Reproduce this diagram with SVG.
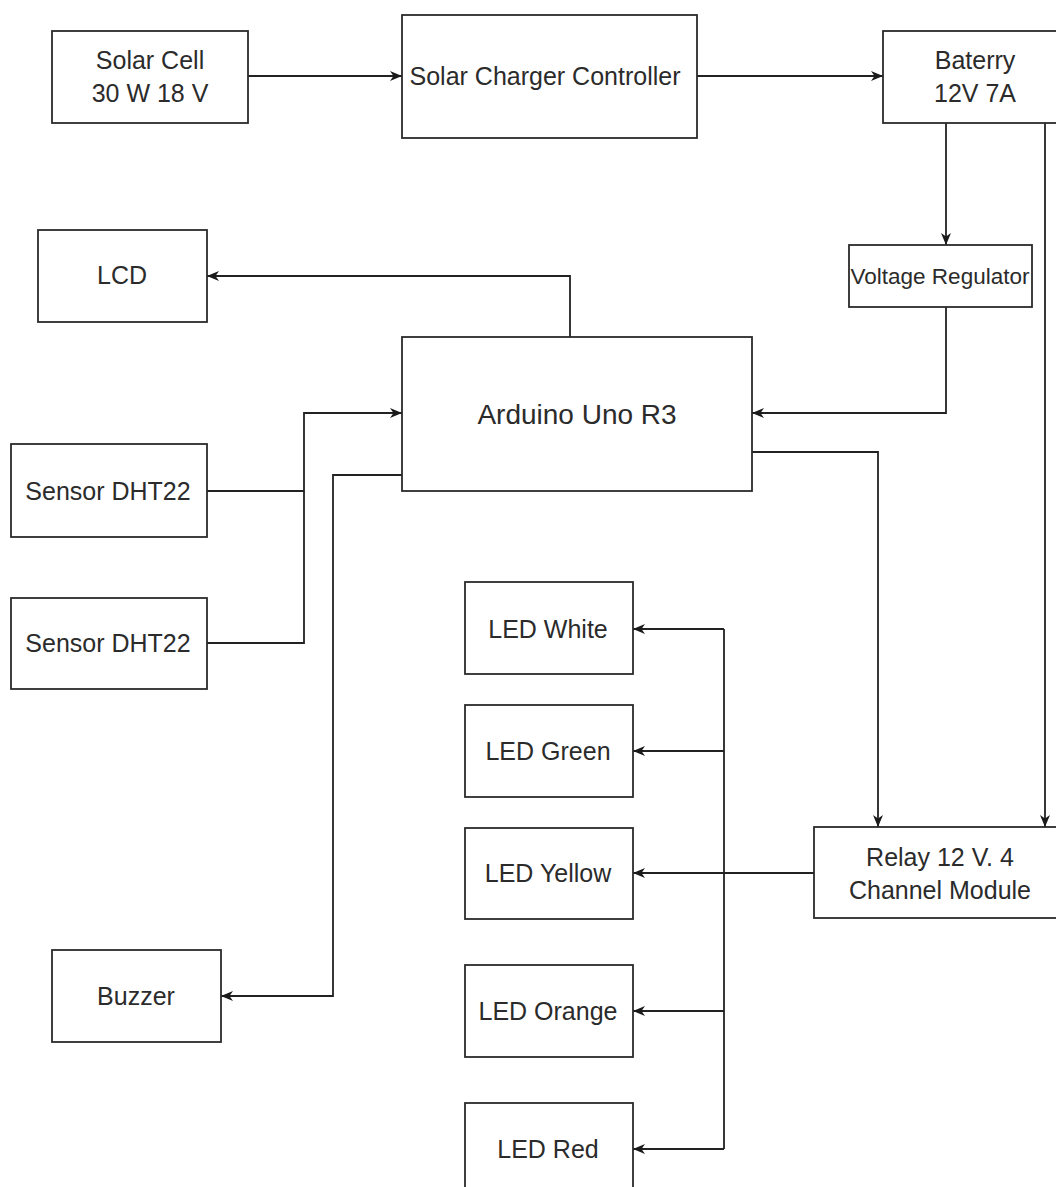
<svg xmlns="http://www.w3.org/2000/svg" width="1056" height="1187" viewBox="0 0 1056 1187">
<style>
.box{fill:#fff;stroke:#2b2b2b;stroke-width:1.8}
.t{font-family:"Liberation Sans",Arial,sans-serif;font-size:25px;fill:#2b2b2b;text-anchor:middle}
.c{fill:none;stroke:#222;stroke-width:1.8}
</style>
<defs>
<marker id="arr" viewBox="0 0 12 10" refX="12" refY="5" markerWidth="12" markerHeight="10" orient="auto" markerUnits="userSpaceOnUse">
<path d="M0,0 L12,5 L0,10 L3.5,5 Z" fill="#1a1a1a"/>
</marker>
</defs>
<rect width="1056" height="1187" fill="#fff"/>
<g id="connectors">
<path class="c" d="M248,76 H402" marker-end="url(#arr)"/>
<path class="c" d="M697,76 H883" marker-end="url(#arr)"/>
<path class="c" d="M946,123 V245" marker-end="url(#arr)"/>
<path class="c" d="M1045,123 V827" marker-end="url(#arr)"/>
<path class="c" d="M946,307 V413 H752" marker-end="url(#arr)"/>
<path class="c" d="M570,337 V276 H207" marker-end="url(#arr)"/>
<path class="c" d="M207,491 H304 V413 H402" marker-end="url(#arr)"/>
<path class="c" d="M207,643 H304 V491"/>
<path class="c" d="M752,452 H878 V827" marker-end="url(#arr)"/>
<path class="c" d="M402,475 H333 V996 H221" marker-end="url(#arr)"/>
<path class="c" d="M814,873 H633" marker-end="url(#arr)"/>
<path class="c" d="M724,629 V1149"/>
<path class="c" d="M724,629 H633" marker-end="url(#arr)"/>
<path class="c" d="M724,751 H633" marker-end="url(#arr)"/>
<path class="c" d="M724,1011 H633" marker-end="url(#arr)"/>
<path class="c" d="M724,1149 H633" marker-end="url(#arr)"/>
</g>
<g id="solar-cell"><rect class="box" x="52" y="31" width="196" height="92"/><text class="t" x="150" y="69">Solar Cell</text><text class="t" x="150" y="102">30 W 18 V</text></g>
<g id="charger"><rect class="box" x="402" y="15" width="295" height="123"/><text class="t" x="545" y="85">Solar Charger Controller</text></g>
<g id="battery"><rect class="box" x="883" y="31" width="184" height="92"/><text class="t" x="975" y="69">Baterry</text><text class="t" x="975" y="102">12V 7A</text></g>
<g id="regulator"><rect class="box" x="849" y="245" width="183" height="62"/><text class="t" x="940" y="284" style="font-size:22.5px">Voltage Regulator</text></g>
<g id="lcd"><rect class="box" x="38" y="230" width="169" height="92"/><text class="t" x="122" y="284">LCD</text></g>
<g id="arduino"><rect class="box" x="402" y="337" width="350" height="154"/><text class="t" x="577" y="424" style="font-size:28px">Arduino Uno R3</text></g>
<g id="sensor1"><rect class="box" x="11" y="444" width="196" height="93"/><text class="t" x="108" y="500">Sensor DHT22</text></g>
<g id="sensor2"><rect class="box" x="11" y="598" width="196" height="91"/><text class="t" x="108" y="652">Sensor DHT22</text></g>
<g id="buzzer"><rect class="box" x="52" y="950" width="169" height="92"/><text class="t" x="136" y="1005">Buzzer</text></g>
<g id="led-white"><rect class="box" x="465" y="582" width="168" height="92"/><text class="t" x="548" y="638">LED White</text></g>
<g id="led-green"><rect class="box" x="465" y="705" width="168" height="92"/><text class="t" x="548" y="760">LED Green</text></g>
<g id="led-yellow"><rect class="box" x="465" y="828" width="168" height="91"/><text class="t" x="548" y="882">LED Yellow</text></g>
<g id="led-orange"><rect class="box" x="465" y="965" width="168" height="92"/><text class="t" x="548" y="1020">LED Orange</text></g>
<g id="led-red"><rect class="box" x="465" y="1103" width="168" height="92"/><text class="t" x="548" y="1158">LED Red</text></g>
<g id="relay"><rect class="box" x="814" y="827" width="252" height="91"/><text class="t" x="940" y="866">Relay 12 V. 4</text><text class="t" x="940" y="899">Channel Module</text></g>
</svg>
